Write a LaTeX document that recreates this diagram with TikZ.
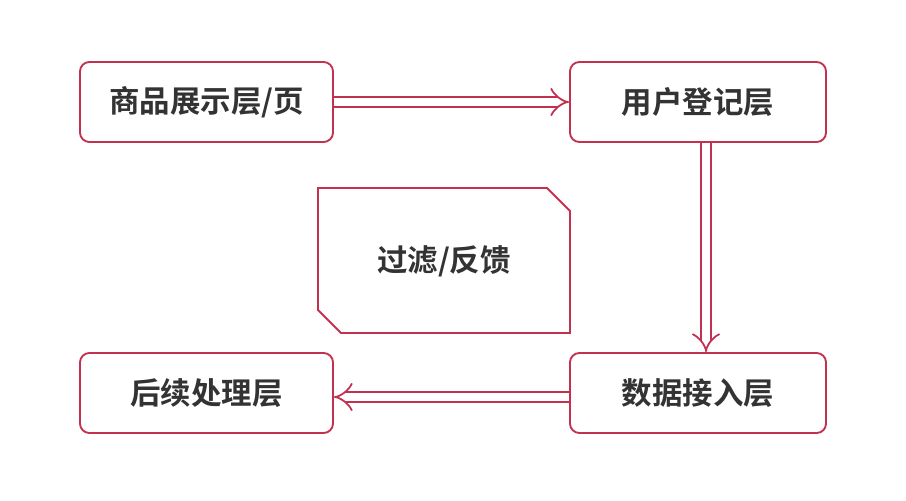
\documentclass[tikz,border=0pt]{standalone}
\usepackage{fontspec}
\setmainfont{Noto Sans CJK SC}[BoldFont={* Bold}]
\usetikzlibrary{arrows.meta}
\definecolor{boxRed}{HTML}{C2314F}
\definecolor{txtGray}{HTML}{333333}
\begin{document}
\begin{tikzpicture}[x=0.03cm, y=-0.03cm]
        \tikzset{
           layer/.style={
                        rectangle,
                        rounded corners=8pt,
                        draw=boxRed,
                        line width=1.6pt,
                        fill=white,
                        text=txtGray,
                        font=\fontsize{26}{30}\selectfont\bfseries,
                        minimum height=2.4cm
                       },
           flow/.style={
                        draw=boxRed,
                        line width=1.5pt,
                        double=white,
                        double distance=7pt,
                        -{Implies[length=11pt]}
                       },
                 };
    \useasboundingbox (0,0) rectangle (906,500);
    %--------------------
        \node[layer, minimum width=7.59cm] (display) at (206.5,102) {商品展示层/页};
        \node[layer, minimum width=7.68cm] (register) at (698,102) {用户登记层};
        \node[layer, minimum width=7.59cm] (follow) at (206.5,393) {后续处理层};
        \node[layer, minimum width=7.68cm] (ingest) at (698,393) {数据接入层};
    %--------------------
        \draw[draw=boxRed, line width=1.6pt]
              (318,188) -- (547,188) -- (570,211) -- (570,333)
              -- (341,333) -- (318,310) -- cycle;
        \node[text=txtGray, font=\fontsize{26}{30}\selectfont\bfseries] (filter) at (444,261) {过滤/反馈};
    %--------------------
        \draw[flow] (display.east) -- (register.west);
        \draw[flow] (register.south -| 706,0) -- (ingest.north -| 706,0);
        \draw[flow] (ingest.west |- 0,397) -- (follow.east |- 0,397);
    \end{tikzpicture}
\end{document}
